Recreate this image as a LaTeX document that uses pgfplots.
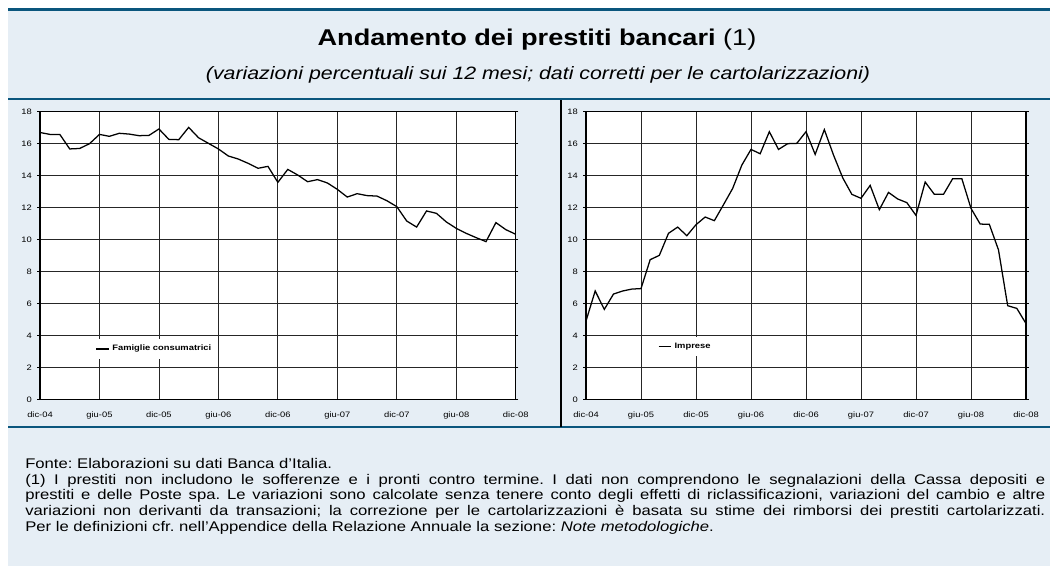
\documentclass[border=0pt]{standalone}
\usepackage{fontspec}
\setmainfont[FakeStretch=1.19]{Liberation Sans}
\usepackage{pgfplots}
\usepackage{pgfplotstable}
\pgfplotsset{compat=1.18}
\definecolor{bgblue}{RGB}{230,238,245}
\definecolor{darkblue}{RGB}{10,86,125}
\frenchspacing

\newcommand\jline[1]{{\spaceskip=\fontdimen2\font plus 1fil\relax\xspaceskip=\spaceskip\makebox[765pt][s]{#1}}}

\pgfplotstableread{
m v
0 16.70
1 16.58
2 16.58
3 15.67
4 15.70
5 16.00
6 16.58
7 16.46
8 16.65
9 16.60
10 16.50
11 16.52
12 16.92
13 16.27
14 16.25
15 17.02
16 16.37
17 16.02
18 15.67
19 15.23
20 15.04
21 14.77
22 14.46
23 14.58
24 13.58
25 14.39
26 14.04
27 13.62
28 13.75
29 13.54
30 13.14
31 12.66
32 12.87
33 12.75
34 12.72
35 12.43
36 12.06
37 11.16
38 10.78
39 11.79
40 11.64
41 11.10
42 10.70
43 10.39
44 10.12
45 9.87
46 11.06
47 10.62
48 10.33
}\famtable

\pgfplotstableread{
m v
0 4.90
1 6.78
2 5.63
3 6.59
4 6.78
5 6.90
6 6.93
7 8.74
8 9.01
9 10.39
10 10.78
11 10.24
12 10.93
13 11.41
14 11.18
15 12.18
16 13.20
17 14.66
18 15.64
19 15.37
20 16.75
21 15.64
22 16.00
23 16.02
24 16.75
25 15.33
26 16.88
27 15.29
28 13.87
29 12.83
30 12.58
31 13.39
32 11.87
33 12.95
34 12.54
35 12.31
36 11.51
37 13.60
38 12.83
39 12.83
40 13.81
41 13.81
42 11.95
43 10.97
44 10.95
45 9.35
46 5.86
47 5.69
48 4.74
}\imptable

\pgfplotsset{
  panel/.style={
    scale only axis,
    height=215.7pt,
    xmin=0, xmax=48, ymin=0, ymax=18,
    xtick={0,6,...,48},
    xticklabels={dic-04,giu-05,dic-05,giu-06,dic-06,giu-07,dic-07,giu-08,dic-08},
    ytick={0,2,...,18},
    grid=major,
    major grid style={black!85, line width=0.6pt},
    axis line style={black, line width=0.8pt},
    axis background/.style={fill=white},
    tick align=outside,
    major tick length=2pt,
    xtick style={draw=none},
    ytick style={black, line width=0.6pt},
    ticklabel style={font=\fontsize{5.9}{7}\selectfont},
    /pgf/number format/assume math mode=true,
    yticklabel style={inner sep=0pt, xshift=-4pt},
    xticklabel style={inner sep=0pt, yshift=-7pt},
    legend style={draw=none, fill=white, font=\bfseries\fontsize{5.9}{7}\selectfont,
      inner xsep=2pt, inner ysep=2.5pt, legend cell align=left},
    legend image code/.code={\draw[#1] (0pt,0pt) -- (9.5pt,0pt);},
  }
}

\begin{document}
\begin{tikzpicture}[x=0.75pt,y=0.75pt]
\path[use as bounding box] (0,0) rectangle (1050,566);
\fill[bgblue] (8,0) rectangle (1050,555);
\fill[darkblue] (8,555) rectangle (1050,558);
\fill[darkblue] (8,465.5) rectangle (1050,467.5);
\fill[darkblue] (8,137.5) rectangle (1050,139.5);
\fill[black] (560,138.5) rectangle (562,466);

\node[font=\fontsize{17.1}{20}\selectfont] at (537,526) {\textbf{Andamento dei prestiti bancari} (1)};
\node[font=\fontsize{13.45}{16}\selectfont\itshape] at (538,491) {(variazioni percentuali sui 12 mesi; dati corretti per le cartolarizzazioni)};

\begin{axis}[panel, at={(30pt,125pt)}, anchor=south west, width=356.8pt,
  legend style={at={(0.111,0.175)}, anchor=west}]
\addplot[black, line width=0.95pt] table[x=m,y=v] {\famtable};
\addlegendentry{Famiglie consumatrici}
\end{axis}

\begin{axis}[panel, at={(439.5pt,125pt)}, anchor=south west, width=330pt,
  legend style={at={(0.157,0.184)}, anchor=west}]
\addplot[black, line width=0.95pt] table[x=m,y=v] {\imptable};
\addlegendentry{Imprese}
\end{axis}

\node[anchor=north west, inner sep=0pt, text width=765pt, align=left,
  font=\fontsize{10.5}{11.8}\selectfont] at (25,108) {%
Fonte: Elaborazioni su dati Banca d'Italia.\\
\jline{(1) I prestiti non includono le sofferenze e i pronti contro termine. I dati non comprendono le segnalazioni della Cassa depositi e}\\
\jline{prestiti e delle Poste spa. Le variazioni sono calcolate senza tenere conto degli effetti di riclassificazioni, variazioni del cambio e altre}\\
\jline{variazioni non derivanti da transazioni; la correzione per le cartolarizzazioni è basata su stime dei rimborsi dei prestiti cartolarizzati.}\\
Per le definizioni cfr. nell'Appendice della Relazione Annuale la sezione: \textit{Note metodologiche}.};
\end{tikzpicture}
\end{document}
